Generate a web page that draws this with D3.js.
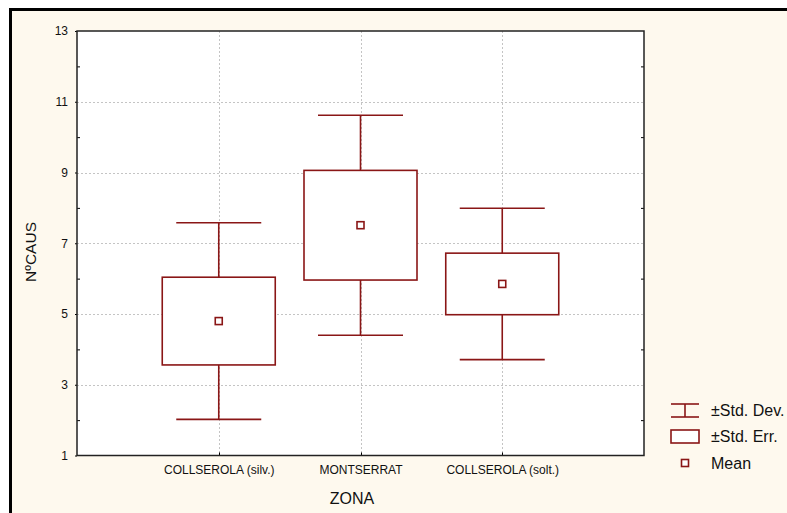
<!DOCTYPE html>
<html>
<head>
<meta charset="utf-8">
<script src="https://cdn.jsdelivr.net/npm/d3@7"></script>
<style>
  html, body { margin: 0; padding: 0; background: #ffffff; }
  svg { display: block; }
  text { font-family: Arial, "Liberation Sans", sans-serif; fill: #111; }
</style>
</head>
<body>
<svg id="chart" width="787" height="513"></svg>
<script>
// Number of causes by zone: mean, standard error and standard deviation
const zones = ["COLLSEROLA (silv.)", "MONTSERRAT", "COLLSEROLA (solt.)"];
const means = [4.80, 7.51, 5.85];
const stdErr = [1.24, 1.55, 0.87];
const stdDev = [2.78, 3.11, 2.14];
const yTicks = [1, 3, 5, 7, 9, 11, 13];
const yMinorTicks = [2, 4, 6, 8, 10, 12];
const legendItems = ["±Std. Dev.", "±Std. Err.", "Mean"];

const W = 787, H = 513;
const plot = { left: 77, top: 31, right: 644, bottom: 455.5 };
const RED = "#8a1616";

const svg = d3.select("#chart");

// Outer frame: cream panel with a heavy black top/left edge
svg.append("rect").attr("x", 10).attr("y", 9).attr("width", W - 10).attr("height", H - 9)
  .attr("fill", "#fef9ee");
svg.append("path").attr("d", `M10.5,${H} L10.5,9.5 L${W},9.5`)
  .attr("fill", "none").attr("stroke", "#000").attr("stroke-width", 3);

const x = d3.scalePoint().domain(zones).range([plot.left, plot.right]).padding(1);
const y = d3.scaleLinear().domain([1, 13]).range([plot.bottom, plot.top]);

// Plot background
svg.append("rect").attr("x", plot.left).attr("y", plot.top)
  .attr("width", plot.right - plot.left).attr("height", plot.bottom - plot.top)
  .attr("fill", "#fff");

// Dotted grid
const grid = svg.append("g").attr("stroke", "#c4c4c4").attr("stroke-width", 1)
  .attr("stroke-dasharray", "2,2");
grid.selectAll("line.h").data(yTicks.filter(v => v > 1 && v < 13)).join("line")
  .attr("x1", plot.left).attr("x2", plot.right)
  .attr("y1", d => Math.round(y(d)) + 0.5).attr("y2", d => Math.round(y(d)) + 0.5);
grid.selectAll("line.v").data(zones).join("line")
  .attr("x1", d => Math.round(x(d)) + 0.5).attr("x2", d => Math.round(x(d)) + 0.5)
  .attr("y1", plot.top).attr("y2", plot.bottom);

// Left axis (labels), right mirror ticks
const yAxis = d3.axisLeft(y).tickValues(yTicks).tickSize(2).tickPadding(7);
const gy = svg.append("g").attr("transform", `translate(${plot.left},0)`).call(yAxis);
gy.select(".domain").remove();
gy.selectAll("text").attr("font-size", 12).attr("fill", "#111");

const yMinor = d3.axisRight(y).tickValues(yMinorTicks).tickSize(3).tickFormat("");
svg.append("g").attr("transform", `translate(${plot.left},0)`).call(yMinor)
  .select(".domain").remove();
svg.append("g").attr("transform", `translate(${plot.right},0)`)
  .call(d3.axisLeft(y).tickValues(yMinorTicks).tickSize(3).tickFormat(""))
  .select(".domain").remove();

// Bottom axis (category labels)
const xAxis = d3.axisBottom(x).tickSize(0).tickPadding(10);
const gx = svg.append("g").attr("transform", `translate(0,${plot.bottom})`).call(xAxis);
gx.select(".domain").remove();
gx.selectAll("text").attr("font-size", 12).attr("fill", "#111");
svg.append("g").selectAll("line").data(zones).join("line")
  .attr("x1", d => Math.round(x(d)) + 0.5).attr("x2", d => Math.round(x(d)) + 0.5)
  .attr("y1", plot.bottom).attr("y2", plot.bottom - 3).attr("stroke", "#000");

// Plot border
svg.append("rect").attr("x", plot.left).attr("y", plot.top)
  .attr("width", plot.right - plot.left).attr("height", plot.bottom - plot.top)
  .attr("fill", "none").attr("stroke", "#222").attr("stroke-width", 1.5);

// Boxes: whiskers (±SD), box (±SE), mean marker
const boxW = 113, capW = 85, meanS = 7;
const data = zones.map((z, i) => ({ z, m: means[i], se: stdErr[i], sd: stdDev[i] }));
const marks = svg.append("g").attr("stroke", RED).attr("stroke-width", 1.6).attr("fill", "none");
const g = marks.selectAll("g").data(data).join("g");
g.append("line").attr("x1", d => x(d.z)).attr("x2", d => x(d.z))
  .attr("y1", d => y(d.m + d.sd)).attr("y2", d => y(d.m - d.sd));
g.append("line").attr("x1", d => x(d.z) - capW / 2).attr("x2", d => x(d.z) + capW / 2)
  .attr("y1", d => y(d.m + d.sd)).attr("y2", d => y(d.m + d.sd));
g.append("line").attr("x1", d => x(d.z) - capW / 2).attr("x2", d => x(d.z) + capW / 2)
  .attr("y1", d => y(d.m - d.sd)).attr("y2", d => y(d.m - d.sd));
g.append("rect").attr("x", d => x(d.z) - boxW / 2).attr("width", boxW)
  .attr("y", d => y(d.m + d.se)).attr("height", d => y(d.m - d.se) - y(d.m + d.se))
  .attr("fill", "#fff");
g.append("rect").attr("x", d => x(d.z) - meanS / 2).attr("y", d => y(d.m) - meanS / 2)
  .attr("width", meanS).attr("height", meanS).attr("fill", "#fff");

// Axis titles
svg.append("text").attr("transform", "translate(36,252) rotate(-90)")
  .attr("text-anchor", "middle").attr("font-size", 15.5).text("NºCAUS");
svg.append("text").attr("x", 352).attr("y", 504).attr("text-anchor", "middle")
  .attr("font-size", 16).text("ZONA");

// Legend
const lg = svg.append("g");
const ls = lg.append("g").attr("stroke", RED).attr("stroke-width", 1.6).attr("fill", "none");
ls.append("line").attr("x1", 671).attr("x2", 699).attr("y1", 404).attr("y2", 404);
ls.append("line").attr("x1", 671).attr("x2", 699).attr("y1", 417).attr("y2", 417);
ls.append("line").attr("x1", 685).attr("x2", 685).attr("y1", 404).attr("y2", 417);
ls.append("rect").attr("x", 671).attr("y", 430).attr("width", 28).attr("height", 13).attr("fill", "#fff");
ls.append("rect").attr("x", 681.5).attr("y", 459.5).attr("width", 7).attr("height", 7).attr("fill", "#fff");
lg.selectAll("text").data(legendItems).join("text")
  .attr("x", 711).attr("y", (d, i) => 415.5 + i * 26.5)
  .attr("font-size", 16).text(d => d);
</script>
</body>
</html>
